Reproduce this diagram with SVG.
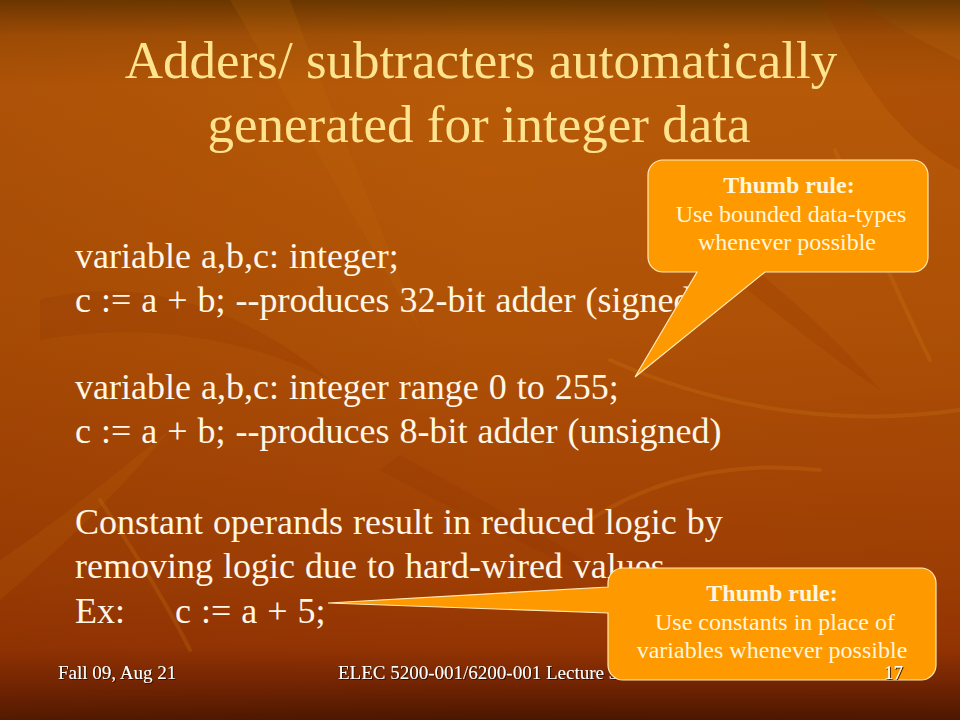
<svg xmlns="http://www.w3.org/2000/svg" width="960" height="720" viewBox="0 0 960 720">
  <defs>
    <linearGradient id="bg" x1="0" y1="0" x2="0" y2="1">
      <stop offset="0" stop-color="#683800"/>
      <stop offset="0.05" stop-color="#A45206"/>
      <stop offset="0.12" stop-color="#B85B08"/>
      <stop offset="0.45" stop-color="#B05206"/>
      <stop offset="0.8" stop-color="#9E3E04"/>
      <stop offset="0.9" stop-color="#943403"/>
      <stop offset="0.95" stop-color="#722402"/>
      <stop offset="1" stop-color="#4A1600"/>
    </linearGradient>
    <linearGradient id="side" x1="0" y1="0" x2="1" y2="0">
      <stop offset="0" stop-color="#7A2A00" stop-opacity="0.18"/>
      <stop offset="0.5" stop-color="#7A2A00" stop-opacity="0"/>
      <stop offset="1" stop-color="#7A2A00" stop-opacity="0.05"/>
    </linearGradient>
    <filter id="sh" x="-5%" y="-20%" width="110%" height="140%">
      <feDropShadow dx="1" dy="1" stdDeviation="0.4" flood-color="#2A0A00" flood-opacity="0.9"/>
    </filter>
  </defs>
  <style>
    .title { font-family: "Liberation Serif", "Times New Roman", serif; font-size: 53px; fill: #FFE38E; text-anchor: middle; }
    .body { font-family: "Liberation Serif", "Times New Roman", serif; font-size: 36px; fill: #FFF6E6; word-spacing: 1px; }
    .foot { font-family: "Liberation Serif", "Times New Roman", serif; font-size: 19px; fill: #FFFFFF; filter: url(#sh); }
    .callout { fill: #FF9900; stroke: #FFE9B8; stroke-width: 1.2; }
    .ctext { font-family: "Liberation Serif", "Times New Roman", serif; font-size: 24px; fill: #FFF6DE; text-anchor: middle; }
    .cbold { font-weight: bold; }
    .leaf { fill: #C8700E; opacity: 0.16; }
    .dleaf { fill: #8A3000; opacity: 0.2; }
    .streak { fill: none; stroke: #D8861A; stroke-width: 4; opacity: 0.2; stroke-linecap: round; }
  </style>

  <!-- background -->
  <rect x="0" y="0" width="960" height="720" fill="url(#bg)"/>
  <rect x="0" y="0" width="960" height="720" fill="url(#side)"/>
  <g id="texture">
    <path class="leaf" d="M230,0 C300,120 360,230 420,330 C380,220 330,110 290,0 Z"/>
    <path class="dleaf" d="M40,300 C150,270 260,320 330,380 C250,340 150,320 40,340 Z"/>
    <path class="dleaf" d="M820,0 C860,80 900,140 960,170 L960,60 C920,40 880,20 860,0 Z"/>
    <path class="dleaf" d="M700,250 C760,300 820,350 880,390 C830,330 780,290 720,240 Z"/>
    <path class="leaf" d="M0,560 C60,520 120,470 170,430 C120,490 70,540 0,600 Z"/>
    <path class="dleaf" d="M380,470 C470,520 560,560 640,600 C560,540 480,500 400,455 Z"/>
    <path class="streak" d="M610,360 C700,400 820,430 960,410"/>
    <path class="streak" d="M590,520 C650,480 730,460 820,470"/>
    <path class="streak" d="M835,150 C870,230 900,300 930,360"/>
    <path class="streak" d="M100,500 C140,560 170,610 190,650"/>
  </g>

  <!-- title -->
  <g id="title">
    <text class="title" x="481" y="78">Adders/ subtracters automatically</text>
    <text class="title" x="479" y="142">generated for integer data</text>
  </g>

  <!-- body -->
  <g id="body">
    <text class="body" x="75" y="268">variable a,b,c: integer;</text>
    <text class="body" x="75" y="312">c := a + b; --produces 32-bit adder (signed)</text>
    <text class="body" x="75" y="399">variable a,b,c: integer range 0 to 255;</text>
    <text class="body" x="75" y="443">c := a + b; --produces 8-bit adder (unsigned)</text>
    <text class="body" x="75" y="534">Constant operands result in reduced logic by</text>
    <text class="body" x="75" y="578">removing logic due to hard-wired values</text>
    <text class="body" x="75" y="623" xml:space="preserve">Ex:     c := a + 5;</text>
  </g>

  <!-- footer left/center -->
  <g id="footer">
    <text class="foot" x="58" y="679">Fall 09, Aug 21</text>
    <text class="foot" x="338" y="679">ELEC 5200-001/6200-001 Lecture 3</text>
  </g>

  <!-- callout 1 -->
  <g id="callout1">
    <path class="callout" d="M663,160 H913 A15,15 0 0 1 928,175 V257 A15,15 0 0 1 913,272 H765 L635,377 L697,272 H663 A15,15 0 0 1 648,257 V175 A15,15 0 0 1 663,160 Z"/>
    <text class="ctext cbold" x="789" y="193">Thumb rule:</text>
    <text class="ctext" x="791" y="222">Use bounded data-types</text>
    <text class="ctext" x="787" y="250">whenever possible</text>
  </g>

  <!-- callout 2 -->
  <g id="callout2">
    <path class="callout" d="M623,568 H921 A15,15 0 0 1 936,583 V665 A15,15 0 0 1 921,680 H623 A15,15 0 0 1 608,665 V613 L328,603 L608,587 V583 A15,15 0 0 1 623,568 Z"/>
    <text class="ctext cbold" x="772" y="601">Thumb rule:</text>
    <text class="ctext" x="775" y="630">Use constants in place of</text>
    <text class="ctext" x="772" y="658">variables whenever possible</text>
  </g>

  <!-- page number -->
  <g id="pagenum">
    <text class="foot" x="903" y="679" text-anchor="end">17</text>
  </g>
</svg>
